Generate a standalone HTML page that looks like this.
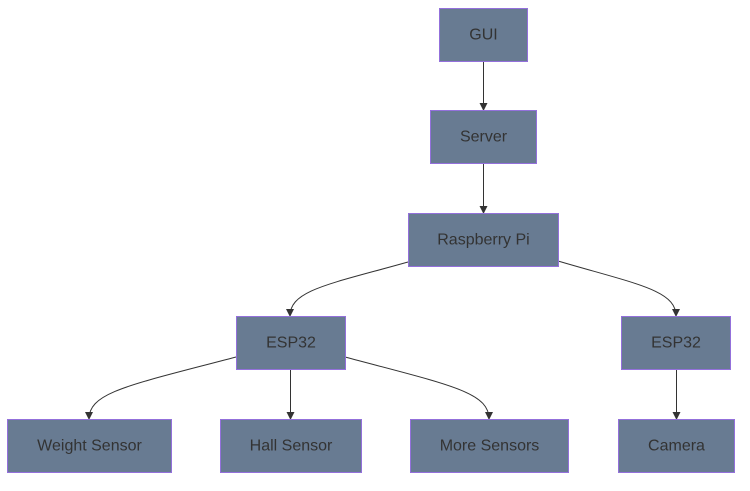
<!DOCTYPE html>
<html><head><style>
body{margin:0;background:#fff;width:750px;height:486px;overflow:hidden;}
svg text{font-family:"Liberation Sans",Arial,sans-serif;font-size:16px;fill:#333;text-anchor:middle;dominant-baseline:central;}
rect{fill:#687b92;stroke:#9370DB;stroke-width:1;}
path{fill:none;stroke:#333;stroke-width:1;}
</style></head><body>
<svg width="750" height="486" viewBox="0 0 750 486">
<defs><marker id="a" markerWidth="8" markerHeight="8" refX="7" refY="4" orient="auto" markerUnits="userSpaceOnUse"><path d="M0,0 L8,4 L0,8 z" style="fill:#333;stroke:none"/></marker></defs>
<path d="M483.5,61 V110" marker-end="url(#a)"/>
<path d="M483.5,163 V213" marker-end="url(#a)"/>
<path d="M408,262 C330,284 290,290 290,316" marker-end="url(#a)"/>
<path d="M558,261 C636,284 676,290 676,316" marker-end="url(#a)"/>
<path d="M236,357 C130,385 89,392 89,419" marker-end="url(#a)"/>
<path d="M290.5,370 V419" marker-end="url(#a)"/>
<path d="M345,357 C450,385 489,392 489,419" marker-end="url(#a)"/>
<path d="M676.5,370 V419" marker-end="url(#a)"/>
<rect x="439.5" y="8.5" width="88" height="53"/><text x="483.5" y="35">GUI</text>
<rect x="430.5" y="110.5" width="106" height="53"/><text x="483.5" y="137">Server</text>
<rect x="408.5" y="213.5" width="150" height="53"/><text x="483.5" y="240">Raspberry Pi</text>
<rect x="236.5" y="316.5" width="109" height="53"/><text x="291" y="343">ESP32</text>
<rect x="621.5" y="316.5" width="109" height="53"/><text x="676" y="343">ESP32</text>
<rect x="7.5" y="419.5" width="164" height="53"/><text x="89.5" y="446">Weight Sensor</text>
<rect x="220.5" y="419.5" width="141" height="53"/><text x="291" y="446">Hall Sensor</text>
<rect x="410.5" y="419.5" width="158" height="53"/><text x="489.5" y="446">More Sensors</text>
<rect x="618.5" y="419.5" width="116" height="53"/><text x="676.5" y="446">Camera</text>
</svg>
</body></html>
